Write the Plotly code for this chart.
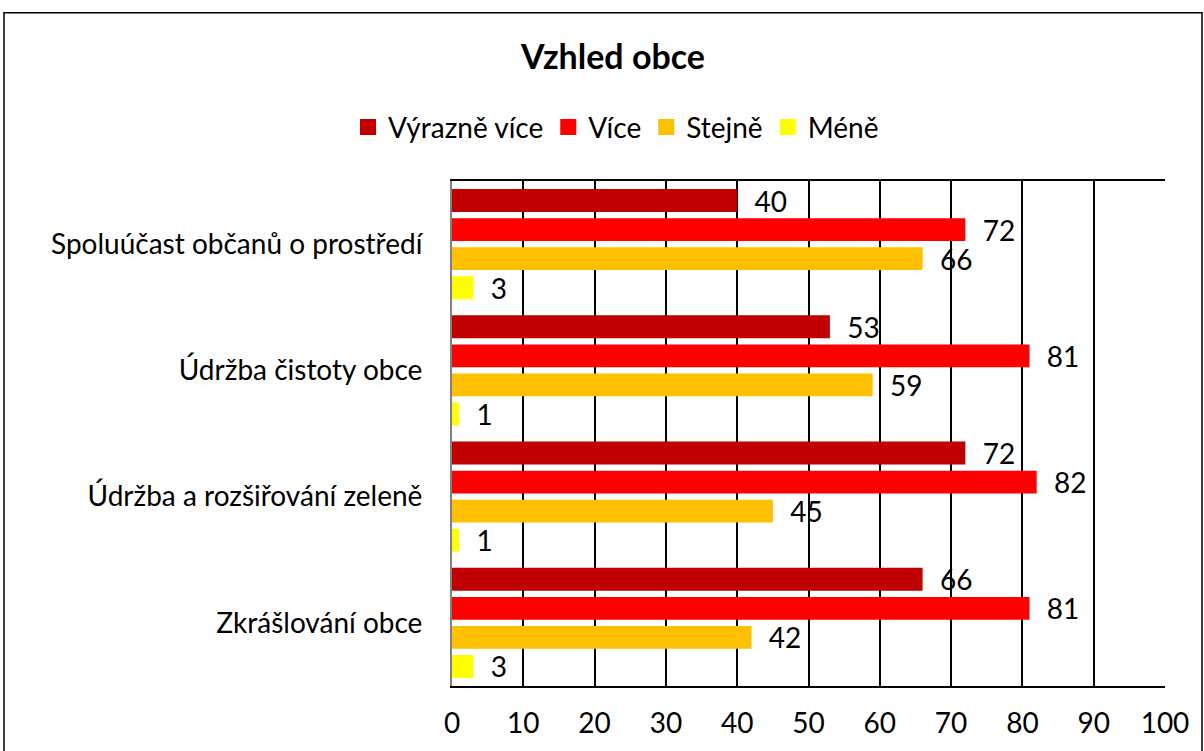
import plotly.graph_objects as go

categories = ["Spoluúčast občanů o prostředí", "Údržba čistoty obce",
              "Údržba a rozšiřování zeleně", "Zkrášlování obce"]
series_names = ["Výrazně více", "Více", "Stejně", "Méně"]
vyrazne_vice = [40, 53, 72, 66]
vice = [72, 81, 82, 81]
stejne = [66, 59, 45, 42]
mene = [3, 1, 1, 3]
colors = ["#C00000", "#FF0000", "#FFC000", "#FFFF00"]
x_ticks = [0, 10, 20, 30, 40, 50, 60, 70, 80, 90, 100]

FONT = "Lato"
FS = 28
L, T, R, B = 452, 181, 1204 - 1165, 751 - 688
PW, PH = 1165 - 452, 688 - 181

fig = go.Figure()
for name, vals, col in zip(series_names, [vyrazne_vice, vice, stejne, mene], colors):
    fig.add_trace(go.Bar(
        y=categories, x=vals, name=name, orientation="h",
        marker=dict(color=col, line=dict(width=0)),
        text=[f"  {v}" for v in vals], textposition="outside",
        constraintext="none",
        textfont=dict(family=FONT, size=FS, color="black"),
        cliponaxis=False, showlegend=False,
    ))
# legend entries with larger square swatches
for name, col in zip(series_names, colors):
    fig.add_trace(go.Scatter(
        x=[None], y=[None], mode="markers", name=name,
        marker=dict(symbol="square", size=18, color=col),
        showlegend=True, hoverinfo="skip",
    ))

fig.update_layout(
    width=1204, height=751,
    margin=dict(l=L, r=R, t=T, b=B),
    paper_bgcolor="white", plot_bgcolor="white",
    barmode="group", bargap=0.08, bargroupgap=0.21,
    font=dict(family=FONT, size=FS, color="black"),
    title=dict(text="<b>Vzhled obce</b>", x=613 / 1204, xanchor="center",
               y=1 - 57 / 751, yanchor="middle",
               font=dict(family=FONT, size=34, color="black")),
    legend=dict(orientation="h", x=(616 - 452) / PW, xanchor="center",
                y=(688 - 127) / PH, yanchor="middle",
                font=dict(family=FONT, size=FS), traceorder="normal",
                itemwidth=30, tracegroupgap=0),
    showlegend=True,
    xaxis=dict(range=[0, 100], tickvals=x_ticks, showgrid=True, gridcolor="black",
               gridwidth=1.5, showline=True, linecolor="black", linewidth=2, mirror=True,
               zeroline=False, ticks="", ticklabelstandoff=11,
               tickfont=dict(family=FONT, size=FS)),
    yaxis=dict(autorange="reversed", showline=True, linecolor="#808080", linewidth=2,
               showgrid=False, ticks="", ticklabelstandoff=22,
               tickfont=dict(family=FONT, size=FS)),
    shapes=[dict(type="rect", xref="paper", yref="paper",
                 x0=(4 - 452) / PW, x1=(1202 - 452) / PW,
                 y0=(688 - 770) / PH, y1=(688 - 12) / PH,
                 line=dict(color="black", width=1.5), fillcolor="rgba(0,0,0,0)",
                 layer="below")],
)

fig.write_html("out.html", config={"displayModeBar": False},
               post_script="document.body.style.margin='0';")
